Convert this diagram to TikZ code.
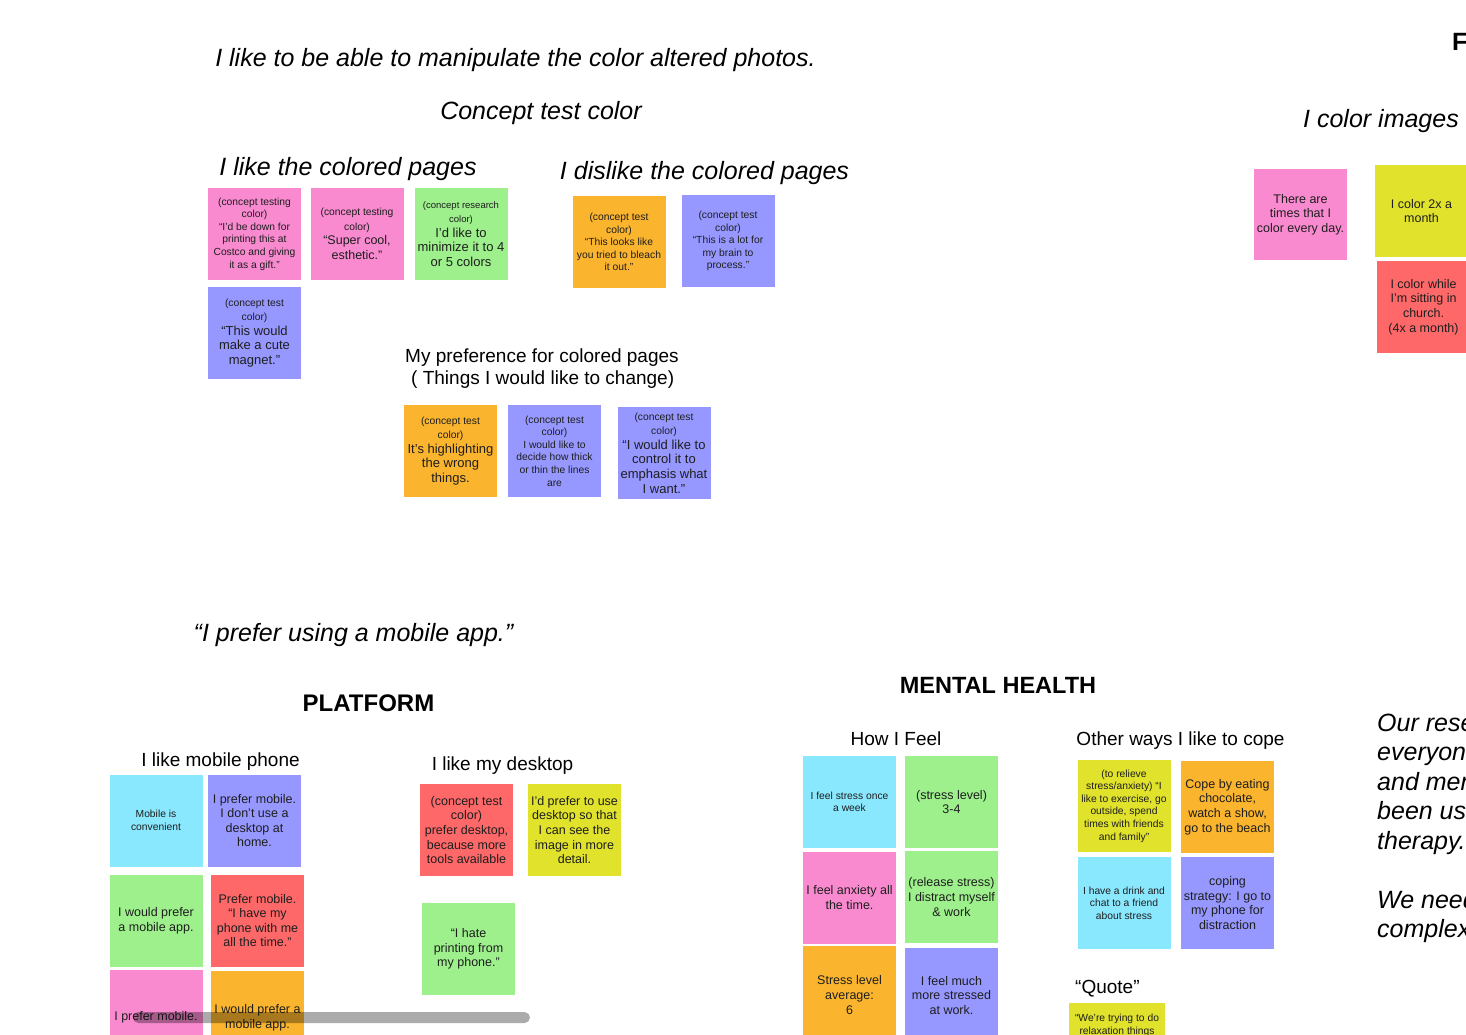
\documentclass[tikz,border=0pt]{standalone}
\usepackage{fontspec}
\setmainfont{Liberation Sans}
\definecolor{cpink}{HTML}{F98AD0}
\definecolor{cgreen}{HTML}{9DF08C}
\definecolor{cpurple}{HTML}{9698FF}
\definecolor{corange}{HTML}{FAB42E}
\definecolor{ccyan}{HTML}{8AE8FE}
\definecolor{cred}{HTML}{FF6868}
\definecolor{cyellow}{HTML}{E0E22C}
\definecolor{ntext}{HTML}{1E1E1E}
\newcommand\fxs{\fontsize{9.5}{11.5}\selectfont}
\newcommand\fsm{\fontsize{10.3}{12.6}\selectfont}
\newcommand\fmd{\fontsize{12.5}{14.6}\selectfont}
\newcommand\fbg{\fontsize{13}{14.6}\selectfont}
\tikzset{
  note/.style={rectangle, inner sep=0pt, align=center, text=ntext,
    minimum width=93pt, minimum height=92pt, font=\fmd},
  sm/.style={font=\fsm},
  bg/.style={font=\fbg},
  hd/.style={inner sep=0pt, text=black, font=\fontsize{25}{30}\selectfont\itshape},
  sub/.style={inner sep=0pt, text=black, font=\fontsize{19}{22}\selectfont},
  bold/.style={inner sep=0pt, text=black, font=\fontsize{24}{28}\selectfont\bfseries},
}
\begin{document}
\begin{tikzpicture}[x=1pt,y=-1pt]
\useasboundingbox (0,0) rectangle (1466,1034);
\clip (0,0) rectangle (1466,1034);
\fill[white] (0,0) rectangle (1466,1034);

% ---------- top section ----------
\node[hd] (t1) at (515.5,60) {I like to be able to manipulate the color altered photos.};
\node[hd] (t2) at (541,113) {Concept test color};
\node[hd] (t3) at (348,169) {I like the colored pages};
\node[hd] (t4) at (704.5,173) {I dislike the colored pages};
\node[sub, anchor=west, align=left] (t5) at (405,369) {My preference for colored pages\\\hspace*{6pt}( Things I would like to change)};
\node[hd, anchor=east] (t6) at (1459,121) {I color images};
\node[bold, anchor=west, font=\fontsize{25}{28}\selectfont\bfseries] (t7) at (1452,42) {F};

\node[note, sm, fill=cpink] (n1) at (254.5,234) {(concept testing\\color)\\“I’d be down for\\printing this at\\Costco and giving\\it as a gift.”};
\node[note, fill=cpink] (n2) at (357,234) {\fsm(concept testing\\\fsm color)\\“Super cool,\\esthetic.”};
\node[note, bg, fill=cgreen] (n3) at (461,234) {\fxs(concept research\\\fxs color)\\I’d like to\\minimize it to 4\\or 5 colors};
\node[note, bg, fill=cpurple] (n4) at (254.5,333) {\fsm(concept test\\\fsm color)\\“This would\\make a cute\\magnet.”};

\node[note, sm, fill=corange] (d1) at (619,242) {(concept test\\color)\\“This looks like\\you tried to bleach\\it out.”};
\node[note, sm, fill=cpurple] (d2) at (728,241) {(concept test\\color)\\“This is a lot for\\my brain to\\process.”};

\node[note, bg, fill=corange] (p1) at (450.5,451) {\fsm(concept test\\\fsm color)\\It’s highlighting\\the wrong\\things.};
\node[note, sm, fill=cpurple] (p2) at (554.5,451) {(concept test\\color)\\I would like to\\decide how thick\\or thin the lines\\are};
\node[note, bg, fill=cpurple] (p3) at (664,453) {\fsm(concept test\\\fsm color)\\“I would like to\\control it to\\emphasis what\\I want.”};

\node[note, fill=cpink, minimum height=91pt] (r1) at (1300.5,214.5) {There are\\times that I\\color every day.};
\node[note, fill=cyellow] (r2) at (1421.5,211) {I color 2x a\\month};
\node[note, fill=cred] (r3) at (1423.5,307) {I color while\\I’m sitting in\\church.\\(4x a month)};

% ---------- platform ----------
\node[hd] (t8) at (353.5,635) {“I prefer using a mobile app.”};
\node[bold] (t9) at (368.5,703) {PLATFORM};
\node[sub] (t10) at (220.5,762) {I like mobile phone};
\node[sub] (t11) at (502.5,766) {I like my desktop};

\node[note, sm, fill=ccyan] (m1) at (156,820.5) {Mobile is\\convenient};
\node[note, fill=cpurple] (m2) at (254.5,820.5) {I prefer mobile.\\I don’t use a\\desktop at\\home.};
\node[note, fill=cgreen] (m3) at (156,920.5) {I would prefer\\a mobile app.};
\node[note, fill=cred] (m4) at (257.5,920.5) {Prefer mobile.\\“I have my\\phone with me\\all the time.”};
\node[note, fill=cpink, minimum height=94pt] (m5) at (156,1017) {I prefer mobile.};
\node[note, fill=corange, minimum height=93pt] (m6) at (257.5,1017.5) {I would prefer a\\mobile app.};

\node[note, fill=cred] (k1) at (466.5,830) {(concept test\\color)\\prefer desktop,\\because more\\tools available};
\node[note, fill=cyellow] (k2) at (574.5,830) {I’d prefer to use\\desktop so that\\I can see the\\image in more\\detail.};
\node[note, fill=cgreen] (k3) at (468.5,949) {“I hate\\printing from\\my phone.”};

% ---------- mental health ----------
\node[bold, font=\fontsize{23.5}{28}\selectfont\bfseries] (t12) at (998,685) {MENTAL HEALTH};
\node[sub] (t13) at (896,739) {How I Feel};
\node[sub] (t14) at (1180.5,741) {Other ways I like to cope};

\node[note, sm, fill=ccyan] (h1) at (849.5,802) {I feel stress once\\a week};
\node[note, fill=cgreen] (h2) at (951.5,802) {(stress level)\\3-4};
\node[note, fill=cpink] (h3) at (849.5,897.5) {I feel anxiety all\\the time.};
\node[note, fill=cgreen] (h4) at (951.5,897) {(release stress)\\I distract myself\\\& work};
\node[note, fill=corange, minimum height=98pt] (h5) at (849.5,995) {Stress level\\average:\\6};
\node[note, fill=cpurple, minimum height=96pt] (h6) at (951.5,995.5) {I feel much\\more stressed\\at work.};

\node[note, sm, fill=cyellow] (o1) at (1124,806) {(to relieve\\stress/anxiety) “I\\like to exercise, go\\outside, spend\\times with friends\\and family”};
\node[note, fill=corange] (o2) at (1227.5,807) {Cope by eating\\chocolate,\\watch a show,\\go to the beach};
\node[note, sm, fill=ccyan] (o3) at (1124,903) {I have a drink and\\chat to a friend\\about stress};
\node[note, fill=cpurple] (o4) at (1227.5,903) {coping\\strategy: I go to\\my phone for\\distraction};

\node[sub, anchor=west] (t15) at (1075,989) {“Quote”};
\node[note, fill=cyellow, minimum width=96pt] (q1) at (1117,1049) {};
\node[inner sep=0pt, anchor=north, align=center, text=ntext, font=\fsm] (q1t) at ([yshift=-11pt]q1.north) {“We’re trying to do\\relaxation things};

% ---------- right paragraph ----------
\node[hd, anchor=north west, align=left, font=\fontsize{25}{29.5}\selectfont\itshape] (t16) at (1377,713) {Our research\\everyone\\and mental\\been using\\therapy.\\[29.5pt]We need\\complex};

% ---------- scrollbar ----------
\fill[black, fill opacity=0.33, rounded corners=5.5pt] (133,1012) rectangle (530,1023);
\end{tikzpicture}
\end{document}
